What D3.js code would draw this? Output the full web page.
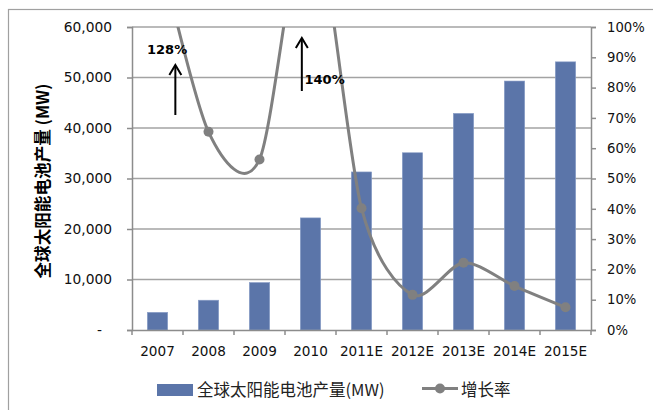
<!DOCTYPE html>
<html><head><meta charset="utf-8">
<script src="https://cdn.jsdelivr.net/npm/d3@7/dist/d3.min.js"></script>
<style>body{margin:0;background:#fff}svg{display:block}</style>
</head><body>
<svg id="c" width="653" height="410"></svg>
<script>
const categories = ["2007","2008","2009","2010","2011E","2012E","2013E","2014E","2015E"];
const production = [3500, 5900, 9400, 22200, 31300, 35100, 42900, 49300, 53100];
const growth = [1.28, 0.654, 0.563, 1.40, 0.402, 0.116, 0.222, 0.145, 0.075];
const leftTicks = [0, 10000, 20000, 30000, 40000, 50000, 60000];
const rightTicks = [0, 0.1, 0.2, 0.3, 0.4, 0.5, 0.6, 0.7, 0.8, 0.9, 1.0];
const annotations = [{cat: "2007", label: "128%"}, {cat: "2010", label: "140%"}];
const yTitle = "全球太阳能电池产量 (MW)";
const legendBar = "全球太阳能电池产量(MW)";
const legendLine = "增长率";

const svg = d3.select("#c");
const L = 132, R = 591, T = 27, B = 330;
const font = "'DejaVu Sans', sans-serif";
const cjk = "'Noto Sans CJK SC', sans-serif";
const gridCol = "#a3a3a3", axisCol = "#8c8c8c", barCol = "#5b75a9", lineCol = "#808080";

// outer border
svg.append("rect").attr("x", 8.5).attr("y", 9.5).attr("width", 700).attr("height", 450)
  .attr("fill", "none").attr("stroke", "#a0a0a0").attr("stroke-width", 1.2);

const x = d3.scaleBand().domain(categories).range([L, R]).padding(0);
const yL = d3.scaleLinear().domain([0, 60000]).range([B, T]);
const yR = d3.scaleLinear().domain([0, 1]).range([B, T]);

// gridlines
svg.append("g").selectAll("line").data(leftTicks.filter(d => d > 0)).join("line")
  .attr("x1", L).attr("x2", R).attr("y1", d => yL(d)).attr("y2", d => yL(d))
  .attr("stroke", gridCol).attr("stroke-width", 1.5);

// bars
svg.append("g").selectAll("rect").data(categories).join("rect")
  .attr("x", d => x(d) + x.bandwidth() * 0.3)
  .attr("width", x.bandwidth() * 0.4)
  .attr("y", (d, i) => yL(production[i]))
  .attr("height", (d, i) => B - yL(production[i]))
  .attr("fill", barCol).attr("stroke", "#8da0c8").attr("stroke-width", 0.6);

// left axis
const gL = svg.append("g").attr("transform", `translate(${L},0)`)
  .call(d3.axisLeft(yL).tickValues(leftTicks).tickSize(5).tickPadding(15)
    .tickFormat(d => d === 0 ? "-" : d3.format(",")(d)));
gL.select(".domain").attr("stroke", axisCol).attr("stroke-width", 1.5);
gL.selectAll(".tick line").attr("stroke", axisCol).attr("stroke-width", 1.5);
gL.selectAll(".tick text").attr("font-family", font).attr("font-size", 13.8).attr("fill", "#111");
gL.selectAll(".tick text").filter(d => d === 0).attr("dx", -10);

// right axis
const gR = svg.append("g").attr("transform", `translate(${R},0)`)
  .call(d3.axisRight(yR).tickValues(rightTicks).tickSize(5).tickPadding(11)
    .tickFormat(d3.format(".0%")));
gR.select(".domain").attr("stroke", axisCol).attr("stroke-width", 1.5);
gR.selectAll(".tick line").attr("stroke", axisCol).attr("stroke-width", 1.5);
gR.selectAll(".tick text").attr("font-family", font).attr("font-size", 13.2).attr("fill", "#111");

// bottom axis
const gB = svg.append("g").attr("transform", `translate(0,${B})`)
  .call(d3.axisBottom(x).tickSize(0).tickPadding(16));
gB.select(".domain").attr("stroke", axisCol).attr("stroke-width", 1.5);
gB.selectAll(".tick text").attr("font-family", font).attr("font-size", 13.6).attr("fill", "#111");
svg.append("g").selectAll("line").data(d3.range(categories.length + 1)).join("line")
  .attr("x1", i => L + i * x.step()).attr("x2", i => L + i * x.step())
  .attr("y1", B).attr("y2", B + 5).attr("stroke", axisCol).attr("stroke-width", 1.5);

// growth line (clipped)
svg.append("clipPath").attr("id", "clip").append("rect")
  .attr("x", L).attr("y", T).attr("width", R - L).attr("height", B - T);
const gl = svg.append("g").attr("clip-path", "url(#clip)");
const pts = categories.map((c, i) => [x(c) + x.bandwidth() / 2, yR(growth[i])]);
gl.append("path").attr("d", d3.line().curve(d3.curveCardinal.tension(0.15))(pts))
  .attr("fill", "none").attr("stroke", lineCol).attr("stroke-width", 3);
gl.selectAll("circle").data(pts).join("circle")
  .attr("cx", d => d[0]).attr("cy", d => d[1]).attr("r", 5).attr("fill", lineCol);

// annotations (values beyond the 100% axis)
const ann = [
  {a: annotations[0], ax: 0.35, y1: 115, y2: 65, tx: -10.5, ty: 54},
  {a: annotations[1], ax: -0.17, y1: 91, y2: 38, tx: -6, ty: 84}
];
ann.forEach(o => {
  const cx = x(o.a.cat) + x.bandwidth() / 2 + o.ax * x.bandwidth();
  svg.append("line").attr("x1", cx).attr("x2", cx).attr("y1", o.y1).attr("y2", o.y2 + 1)
    .attr("stroke", "#000").attr("stroke-width", 2);
  svg.append("path").attr("d", `M${cx - 6},${o.y2 + 10}L${cx},${o.y2}L${cx + 6},${o.y2 + 10}`)
    .attr("fill", "none").attr("stroke", "#000").attr("stroke-width", 2);
  svg.append("text").attr("x", x(o.a.cat) + x.bandwidth() / 2 + o.tx).attr("y", o.ty)
    .attr("font-family", font).attr("font-weight", "bold").attr("font-size", 13)
    .attr("text-anchor", "start")
    .text(o.a.label);
});

// y title
svg.append("text").attr("transform", "translate(49,181) rotate(-90)")
  .attr("text-anchor", "middle").attr("font-family", cjk).attr("font-weight", "bold")
  .attr("font-size", 16.6).attr("fill", "#000").text(yTitle);

// legend
svg.append("rect").attr("x", 157).attr("y", 384).attr("width", 36).attr("height", 12).attr("fill", barCol);
svg.append("text").attr("x", 197).attr("y", 396).attr("font-family", cjk)
  .attr("font-size", 16.5).attr("fill", "#222").text(legendBar);
svg.append("line").attr("x1", 422).attr("x2", 458).attr("y1", 388.5).attr("y2", 388.5)
  .attr("stroke", lineCol).attr("stroke-width", 3);
svg.append("circle").attr("cx", 440).attr("cy", 388.5).attr("r", 5).attr("fill", lineCol);
svg.append("text").attr("x", 461).attr("y", 396).attr("font-family", cjk)
  .attr("font-size", 16.5).attr("fill", "#222").text(legendLine);
</script>
</body></html>
